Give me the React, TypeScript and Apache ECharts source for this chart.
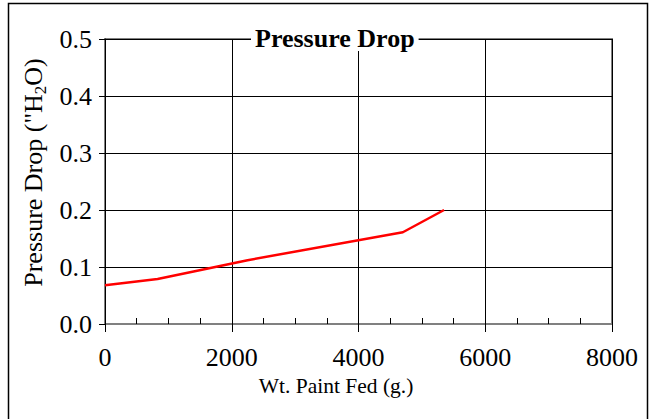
import React, { useEffect, useRef } from "react";
import * as echarts from "echarts";

const xValues = [0, 830, 2250, 4700, 5350];
const yValues = [0.068, 0.079, 0.112, 0.161, 0.2];
const xTicks = [0, 2000, 4000, 6000, 8000];
const yTicks = [0, 0.1, 0.2, 0.3, 0.4, 0.5];

const W = 649;
const H = 419;
const FONT = "Liberation Serif";

export default function App() {
  const ref = useRef<HTMLDivElement>(null);
  useEffect(() => {
    if (!ref.current) return;
    const chart = echarts.init(ref.current, null, { renderer: "svg" });
    const left = 105;
    const right = W - 612;
    const top = 39;
    const bottom = H - 324;
    const plotH = 324 - 39;
    chart.setOption({
      animation: false,
      backgroundColor: "#fff",
      textStyle: { fontFamily: FONT },
      title: {
        text: "Pressure Drop",
        left: 251,
        top: 25,
        padding: [0, 4],
        backgroundColor: "#fff",
        textStyle: { fontFamily: FONT, fontWeight: "bold", fontSize: 26, color: "#000" },
      },
      grid: {
        left,
        right,
        top,
        bottom,
        show: true,
        borderColor: "#808080",
        borderWidth: 2,
        backgroundColor: "#fff",
      },
      xAxis: [
        {
          type: "value",
          min: xTicks[0],
          max: xTicks[xTicks.length - 1],
          interval: 2000,
          name: "Wt. Paint Fed (g.)",
          nameLocation: "middle",
          nameGap: 47,
          nameTextStyle: { fontFamily: FONT, fontSize: 21.5, color: "#000", padding: [0, 45, 0, 0] },
          axisLine: { show: true, lineStyle: { color: "#808080", width: 2 } },
          axisTick: { show: true, inside: true, length: 6, lineStyle: { color: "#000" } },
          minorTick: { show: true, splitNumber: 4, length: 6, lineStyle: { color: "#000" } },
          axisLabel: {
            margin: 20,
            fontFamily: FONT,
            fontSize: 26,
            color: "#000",
            formatter: (v: number) => String(v),
          },
          splitLine: { show: true, lineStyle: { color: "#000", width: 1 } },
        },
        {
          type: "value",
          position: "top",
          offset: -plotH,
          min: xTicks[0],
          max: xTicks[xTicks.length - 1],
          interval: 2000,
          axisLine: { show: false },
          axisTick: { show: true, inside: true, length: 8, lineStyle: { color: "#000" } },
          axisLabel: { show: false },
          splitLine: { show: false },
        },
      ],
      yAxis: {
        type: "value",
        min: yTicks[0],
        max: yTicks[yTicks.length - 1],
        interval: 0.1,
        name: '{n|Pressure Drop ("H}{sub|2}{n|O)}',
        nameLocation: "middle",
        nameGap: 43,
        nameRotate: 90,
        nameTextStyle: {
          fontFamily: FONT,
          fontSize: 26,
          color: "#000",
          padding: [0, 0, 0, 18],
          rich: {
            n: { fontFamily: FONT, fontSize: 26, color: "#000", lineHeight: 30, verticalAlign: "middle" },
            sub: { fontFamily: FONT, fontSize: 17, color: "#000", lineHeight: 12, verticalAlign: "bottom" },
          },
        },
        axisLine: { show: true, lineStyle: { color: "#000", width: 1 } },
        axisTick: { show: true, inside: false, length: 6, lineStyle: { color: "#000" } },
        axisLabel: {
          margin: 13,
          fontFamily: FONT,
          fontSize: 26,
          color: "#000",
          formatter: (v: number) => v.toFixed(1),
        },
        splitLine: { show: true, lineStyle: { color: "#000", width: 1 } },
      },
      graphic: [
        {
          type: "rect",
          shape: { x: 8.5, y: 3.5, width: 639, height: 420 },
          style: { fill: "none", stroke: "#000", lineWidth: 1.5 },
          z: 100,
        },
      ],
      series: [
        {
          type: "line",
          data: xValues.map((x, i) => [x, yValues[i]]),
          showSymbol: false,
          symbol: "none",
          lineStyle: { color: "#ff0000", width: 2.5 },
          z: 5,
        },
      ],
    });
    return () => chart.dispose();
  }, []);
  return (
    <div
      ref={ref}
      style={{
        position: "absolute",
        left: 0,
        top: 0,
        width: W,
        height: H,
      }}
    />
  );
}
